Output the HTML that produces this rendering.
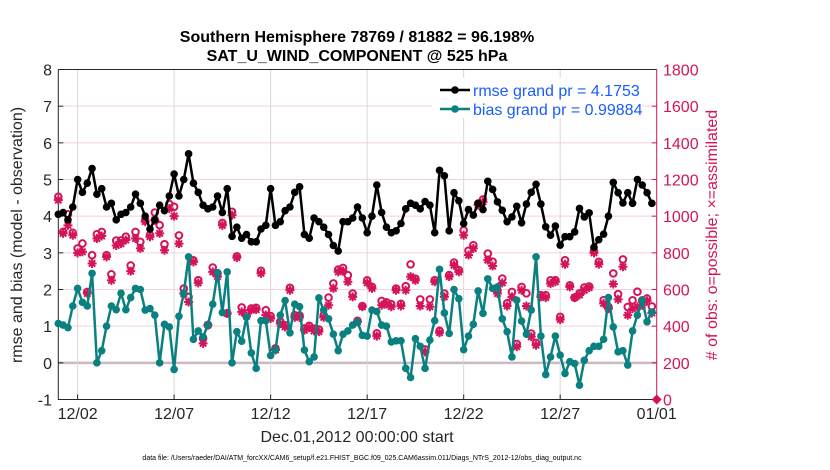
<!DOCTYPE html>
<html><head><meta charset="utf-8"><style>
html,body{margin:0;padding:0;background:#fff;}
svg{display:block;font-family:"Liberation Sans",Arial,sans-serif;}
</style></head><body>
<svg id="chart" width="830" height="470" viewBox="0 0 830 470" xmlns="http://www.w3.org/2000/svg">
<rect width="830" height="470" fill="#fff"/>
<g id="grid"></g>
<g id="axes"></g>
<g id="series"></g>
<text x="357" y="42" font-size="16" font-weight="bold" text-anchor="middle">Southern Hemisphere 78769 / 81882 = 96.198%</text>
<text x="357" y="61" font-size="16" font-weight="bold" text-anchor="middle">SAT_U_WIND_COMPONENT @ 525 hPa</text>
<text x="357" y="442" font-size="16" fill="#262626" text-anchor="middle">Dec.01,2012 00:00:00 start</text>
<text transform="translate(22,235) rotate(-90)" font-size="16" fill="#262626" text-anchor="middle">rmse and bias (model - observation)</text>
<text transform="translate(717,235) rotate(-90)" font-size="16" fill="#d4145a" text-anchor="middle"># of obs: o=possible; ×=assimilated</text>
<text x="362" y="460" font-size="7" text-anchor="middle">data file: /Users/raeder/DAI/ATM_forcXX/CAM6_setup/f.e21.FHIST_BGC.f09_025.CAM6assim.011/Diags_NTrS_2012-12/obs_diag_output.nc</text>
<g>
<rect x="432" y="78" width="210" height="40" fill="#fff"/>
<g>
<line x1="440" y1="90" x2="470" y2="90" stroke="#000" stroke-width="2.5"/><circle cx="455" cy="90" r="3.8" fill="#000"/>
<text x="473" y="96" font-size="16" fill="#1a5cff">rmse grand pr = 4.1753</text></g>
<g>
<line x1="440" y1="109" x2="470" y2="109" stroke="#0a8080" stroke-width="2.5"/><circle cx="455" cy="109" r="3.8" fill="#0a8080"/>
<text x="473" y="115" font-size="16" fill="#1a5cff">bias grand pr = 0.99884</text></g>
</g>
</svg>
<script>
const rmse=[4.05,4.1,3.9,4.25,5.0,4.65,4.9,5.3,4.6,4.75,4.25,4.35,3.9,4.05,4.1,4.25,4.6,4.35,4.0,3.65,3.9,4.3,4.15,4.55,5.15,4.55,5.0,5.7,4.9,4.65,4.3,4.2,4.25,4.55,4.1,4.75,3.45,3.7,3.4,3.5,3.3,
3.3,3.65,3.75,4.75,3.75,3.85,4.15,4.25,4.65,4.8,3.5,3.4,3.95,3.85,3.7,3.5,3.2,3.05,3.85,3.85,3.95,4.25,3.95,3.55,4.0,4.85,4.1,3.7,3.55,3.6,3.8,4.2,4.35,4.3,4.2,4.4,4.3,3.55,5.25,5.1,3.6,
4.64,4.42,3.8,4.18,4.03,4.35,4.18,4.95,4.73,4.39,4.16,3.85,3.98,4.27,3.82,4.33,4.65,4.87,4.33,3.71,3.48,3.73,3.21,3.44,3.44,3.57,4.21,3.98,4.09,3.15,3.36,3.51,4.0,4.92,4.64,4.36,4.64,4.35,5.0,4.85,4.64,4.35];
const bias=[1.07,1.03,0.96,1.55,2.03,1.65,1.55,2.44,0.0,0.33,1.0,1.55,1.45,1.9,1.45,1.78,2.03,2.0,1.44,1.48,1.3,0.0,1.05,0.98,-0.18,1.27,1.9,2.89,0.64,0.87,0.71,1.03,1.6,2.46,1.37,2.48,0.0,0.85,0.59,1.25,0.27,
-0.15,1.15,1.15,0.2,0.35,1.3,1.7,0.82,1.6,1.53,0.35,0.03,0.16,1.77,1.44,1.2,0.78,0.33,0.78,0.87,1.03,1.12,0.75,0.73,1.44,1.4,1.03,1.0,0.57,0.6,0.6,-0.15,-0.4,0.66,0.45,-0.15,0.62,1.15,2.55,1.36,0.8,
2.0,1.75,0.36,0.73,1.05,1.96,1.35,2.29,2.03,2.07,1.2,0.85,0.16,1.71,1.14,0.78,1.44,2.89,0.73,-0.32,0.16,0.73,0.21,-0.29,0.03,-0.02,-0.61,0.07,0.33,0.45,0.45,0.64,1.78,0.98,0.3,0.33,-0.06,0.87,1.3,1.71,1.12,1.39];
const assimilated=[1088,906,950,896,800,806,578,742,878,892,778,650,840,850,870,700,878,824,970,888,978,906,814,1042,1000,850,578,532,750,636,306,406,696,670,950,470,1006,774,478,454,488,
490,688,460,442,270,414,396,596,448,448,378,392,374,370,448,514,606,696,700,642,560,424,506,636,606,346,514,520,506,596,510,596,670,650,510,260,506,642,364,560,670,
732,696,896,788,824,1060,1078,760,728,578,636,510,560,288,596,510,342,296,560,556,632,642,436,738,614,556,570,596,610,800,738,524,496,630,546,724,460,496,506,514,538,472];
const possible=[1106,915,1010,909,824,851,587,787,902,914,787,683,867,868,888,731,914,860,979,897,1020,951,847,1066,1051,895,605,559,759,651,333,406,720,688,963,470,1024,781,502,469,497,
500,702,487,455,279,425,405,609,460,458,388,402,386,382,460,556,633,709,718,678,578,429,510,650,615,361,538,530,520,605,522,618,737,659,546,273,546,651,375,578,679,
747,706,923,812,842,1069,1091,796,752,596,660,525,587,303,614,579,360,309,569,569,650,651,451,760,623,556,579,611,617,809,751,542,505,688,575,764,505,541,588,541,551,508];
const leftTicks=[8,7,6,5,4,3,2,1,0,-1];
const rightTicks=[0,200,400,600,800,1000,1200,1400,1600,1800];
const xTickDays=[1,6,11,16,21,26,31];
const xTickLabels=["12/02","12/07","12/12","12/17","12/22","12/27","01/01"];
const stepsPerDay=4;

const NS="http://www.w3.org/2000/svg";
const X0=58.3,X1=656.7,YT=69.5,YB=399.5,PINK="#d4145a",TEAL="#0a8080";
function xd(d){return X0+(X1-X0)*d/31;}
function xi(i){return xd(i/stepsPerDay);}
function yl(v){return YB-(v+1)*(YB-YT)/9;}
function yr(c){return YB-c*(YB-YT)/1800;}
function mk(tag,attrs,parent){const e=document.createElementNS(NS,tag);for(const k in attrs)e.setAttribute(k,attrs[k]);parent.appendChild(e);return e;}
const grid=document.getElementById('grid'),axes=document.getElementById('axes'),ser=document.getElementById('series');

leftTicks.forEach(v=>{
  if(v>-1&&v<8&&v!==0){const l=mk('line',{x1:X0,x2:X1,y1:yl(v),y2:yl(v),stroke:'#f2d2de','stroke-width':1},grid);
  
  }
  const t=mk('text',{x:52,y:yl(v)+6,'font-size':16,'text-anchor':'end',fill:'#262626'},axes);t.textContent=v;
  
  
  mk('line',{x1:X0,x2:X0+5,y1:yl(v),y2:yl(v),stroke:'#262626'},axes);
});
const zl=mk('line',{x1:X0,x2:X1,y1:yl(0),y2:yl(0),stroke:'#cbb8c0','stroke-width':2.5},grid);


xTickDays.forEach((d,k)=>{
  if(d<31){const g=mk('line',{x1:xd(d),x2:xd(d),y1:YT,y2:YB,stroke:'#d8d8d8','stroke-width':1},grid);
  
  }
  mk('line',{x1:xd(d),x2:xd(d),y1:YB,y2:YB-5,stroke:'#262626'},axes);
  const t=mk('text',{x:xd(d),y:419,'font-size':16,'text-anchor':'middle',fill:'#262626'},axes);t.textContent=xTickLabels[k];
  
  
});
rightTicks.forEach(c=>{
  mk('line',{x1:X1,x2:X1-5,y1:yr(c),y2:yr(c),stroke:PINK},axes);
  const t=mk('text',{x:663,y:yr(c)+6,'font-size':16,fill:PINK},axes);t.textContent=c;
  
  
});
const frame=mk('path',{d:`M${X0},${YT}H${X1}M${X0},${YT}V${YB}H${X1}`,fill:'none',stroke:'#262626','stroke-width':1},axes);


const ra=mk('line',{x1:X1,x2:X1,y1:YT,y2:YB,stroke:PINK,'stroke-width':1},axes);



const pg=mk('g',{},ser);


possible.forEach((c,i)=>{
  const o=mk('circle',{cx:xi(i),cy:yr(c),r:3.3,fill:'none',stroke:PINK,'stroke-width':2},pg);
  
  
});
assimilated.forEach((c,i)=>{
  const x=xi(i),y=yr(c),r=4.5;
  const s=mk('path',{d:`M${x-r},${y}H${x+r}M${x},${y-r}V${y+r}M${x-3.2},${y-3.2}L${x+3.2},${y+3.2}M${x-3.2},${y+3.2}L${x+3.2},${y-3.2}`,stroke:PINK,'stroke-width':2,fill:'none'},pg);
  
  
});
const dm=mk('path',{d:`M${X1},${YB-5}L${X1+5},${YB}L${X1},${YB+5}L${X1-5},${YB}Z`,fill:PINK},pg);



function drawLine(vals,color,name){
  const g=mk('g',{},ser);
  
  
  const p=mk('polyline',{points:vals.map((v,i)=>xi(i)+','+yl(v)).join(' '),fill:'none',stroke:color,'stroke-width':2.5,'stroke-linejoin':'round'},g);
  
  
  vals.forEach((v,i)=>{const c=mk('circle',{cx:xi(i),cy:yl(v),r:3.8,fill:color},g);
    
    });
}
drawLine(bias,TEAL,'bias-series');
drawLine(rmse,'#000','rmse-series');
</script>
</body></html>
